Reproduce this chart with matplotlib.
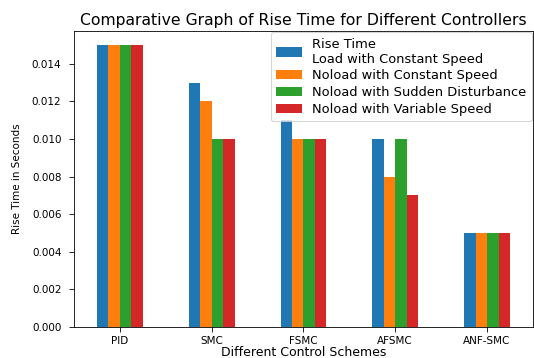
import numpy as np
import matplotlib
matplotlib.use("Agg")
import matplotlib.pyplot as plt

controllers = ["PID", "SMC", "FSMC", "AFSMC", "ANF-SMC"]
series_labels = [
    "Rise Time\nLoad with Constant Speed",
    "Noload with Constant Speed",
    "Noload with Sudden Disturbance",
    "Noload with Variable Speed",
]
load_constant = [0.015, 0.013, 0.011, 0.010, 0.005]
noload_constant = [0.015, 0.012, 0.010, 0.008, 0.005]
noload_disturbance = [0.015, 0.010, 0.010, 0.010, 0.005]
noload_variable = [0.015, 0.010, 0.010, 0.007, 0.005]
y_ticks = [0.000, 0.002, 0.004, 0.006, 0.008, 0.010, 0.012, 0.014]

series = [load_constant, noload_constant, noload_disturbance, noload_variable]
colors = ["#1f77b4", "#ff7f0e", "#2ca02c", "#d62728"]

fig = plt.figure(figsize=(534 / 75, 358 / 75), dpi=75)
ax = fig.add_axes([0.1385, 0.0874, 0.8596, 0.826])

x = np.arange(len(controllers))
n = len(series)
bar_w = 0.5 / n
for i, (vals, lab, col) in enumerate(zip(series, series_labels, colors)):
    offset = (i - (n - 1) / 2) * bar_w
    ax.bar(x + offset, vals, width=bar_w, color=col, label=lab)

ax.set_xlim(-0.5, len(controllers) - 0.5)
ymax = max(max(s) for s in series)
ax.set_ylim(0, ymax * 1.05)
ax.set_yticks(y_ticks)
ax.set_yticklabels([f"{v:.3f}" for v in y_ticks])
ax.set_xticks(x)
ax.set_xticklabels(controllers)
ax.tick_params(axis="y", length=5, pad=7)
ax.tick_params(axis="x", length=5, pad=4)

ax.set_title("Comparative Graph of Rise Time for Different Controllers",
             fontsize=15)
ax.set_xlabel("Different Control Schemes", fontsize=12, labelpad=0)
ax.set_ylabel("Rise Time in Seconds", fontsize=10, labelpad=9)
ax.legend(loc="upper right", fontsize=12.5, labelspacing=0.3,
          borderaxespad=0.1)

fig.savefig("out.png", dpi=75)
